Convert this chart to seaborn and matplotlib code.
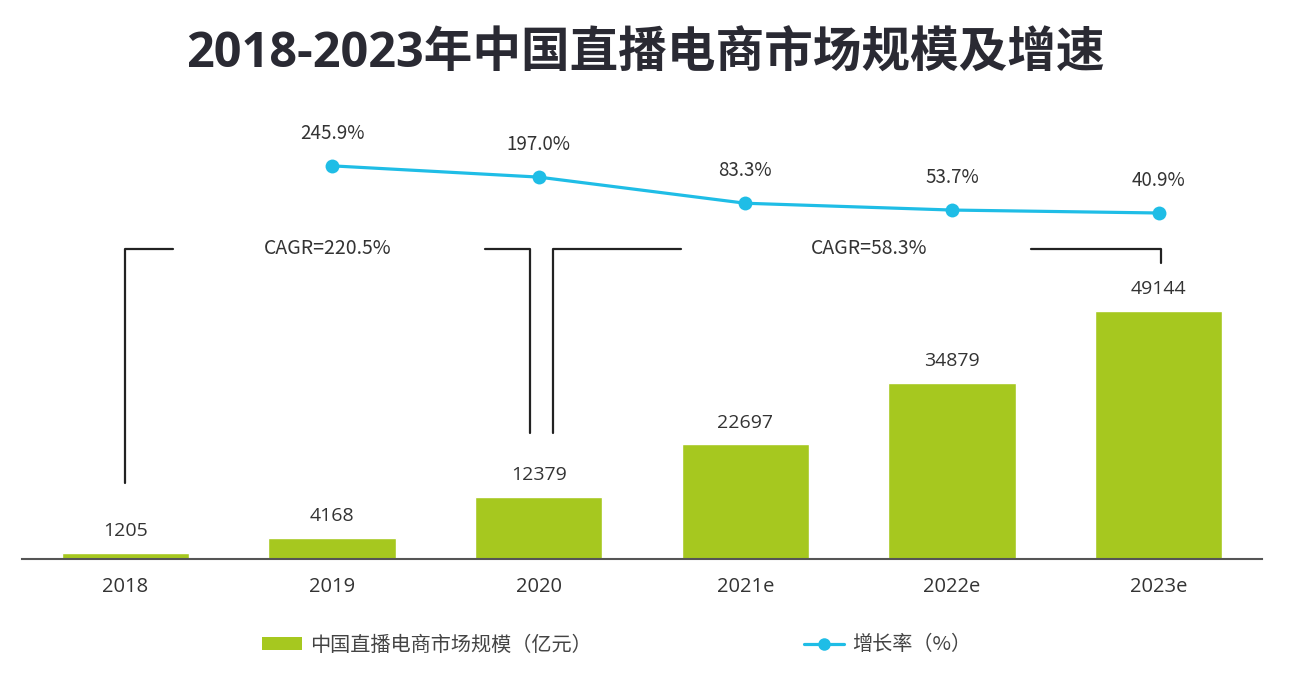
import numpy as np
import pandas as pd
import matplotlib
matplotlib.use("Agg")
import matplotlib.pyplot as plt
import seaborn as sns
from matplotlib.patches import Patch
from matplotlib.lines import Line2D

# data
years = ["2018", "2019", "2020", "2021e", "2022e", "2023e"]
market_size = [1205, 4168, 12379, 22697, 34879, 49144]      # 亿元
growth_years = ["2019", "2020", "2021e", "2022e", "2023e"]
growth_rate = [245.9, 197.0, 83.3, 53.7, 40.9]               # %
cagr_labels = ["CAGR=220.5%", "CAGR=58.3%"]

BAR_COLOR = "#a6c81f"
LINE_COLOR = "#1fbde6"
TEXT_COLOR = "#333333"
NUM_FONT = ["Open Sans", "DejaVu Sans"]

sns.set_theme(style="white")
plt.rcParams["font.family"] = ["Noto Sans CJK SC", "DejaVu Sans"]

fig = plt.figure(figsize=(12.9, 6.8), dpi=100)
W, H = 1290, 680
# main axes: baseline at y=559px, x spans 22..1262px
ax = fig.add_axes([22 / W, (H - 559) / H, 1240 / W, (559 - 100) / H])

df = pd.DataFrame({"year": years, "size": market_size})
sns.barplot(data=df, x="year", y="size", color=BAR_COLOR, width=0.615,
            saturation=1, ax=ax, zorder=2)

px_per_unit = 248 / 49144
ax.set_ylim(0, (559 - 100) / px_per_unit)
ax.set_xlim(-0.5, len(years) - 0.5)

for i, v in enumerate(market_size):
    ax.annotate(f"{v}", (i, v), xytext=(0, 9), textcoords="offset points",
                ha="center", va="bottom", fontsize=14, color=TEXT_COLOR,
                family=NUM_FONT)

for s in ["top", "right", "left"]:
    ax.spines[s].set_visible(False)
ax.spines["bottom"].set_color("#555555")
ax.spines["bottom"].set_linewidth(1.5)
ax.set_yticks([])
ax.set_xlabel("")
ax.set_ylabel("")
ax.tick_params(axis="x", length=0, pad=13, labelcolor=TEXT_COLOR)
for lab in ax.get_xticklabels():
    lab.set_family(NUM_FONT)
    lab.set_fontsize(14.5)

# growth line on twin axis
ax2 = ax.twinx()
px_per_pct = 0.23
zero_px = 222.4
ax2.set_ylim(-(559 - zero_px) / px_per_pct, (zero_px - 100) / px_per_pct)
gx = [years.index(y) for y in growth_years]
sns.lineplot(x=gx, y=growth_rate, ax=ax2, color=LINE_COLOR, linewidth=2.3,
             marker="o", markersize=10, markeredgewidth=0)
for x, v in zip(gx, growth_rate):
    ax2.annotate(f"{v:.1f}%", (x, v), xytext=(0, 16), textcoords="offset points",
                 ha="center", va="bottom", fontsize=13.5, color=TEXT_COLOR)
ax2.axis("off")
ax2.set_xlim(-0.5, len(years) - 0.5)

# CAGR brackets
bracket_y = (559 - 249) / px_per_unit
lk = dict(color="#222222", linewidth=1.6, zorder=3)
# 2018-2020
ax.plot([0, 0, 0.23], [market_size[0] + 13800, bracket_y, bracket_y], **lk)
ax.plot([1.74, 1.96, 1.96], [bracket_y, bracket_y, market_size[2] + 12600], **lk)
ax.text(0.98, bracket_y, cagr_labels[0], ha="center", va="center",
        fontsize=14, color=TEXT_COLOR)
# 2020-2023
ax.plot([2.07, 2.07, 2.69], [market_size[2] + 12600, bracket_y, bracket_y], **lk)
ax.plot([4.38, 5.01, 5.01], [bracket_y, bracket_y, market_size[5] + 9500], **lk)
ax.text(3.6, bracket_y, cagr_labels[1], ha="center", va="center",
        fontsize=14, color=TEXT_COLOR)

fig.text(0.5, (H - 55) / H, "2018-2023年中国直播电商市场规模及增速",
         ha="center", va="center", fontsize=35, fontweight="bold",
         color="#2a2a33", family=["Open Sans", "Noto Sans CJK SC"])

handles = [Patch(facecolor=BAR_COLOR, edgecolor="none"),
           Line2D([], [], color=LINE_COLOR, linewidth=2.3, marker="o",
                  markersize=9, markeredgewidth=0)]
fig.legend(handles, ["中国直播电商市场规模（亿元）", "增长率（%）"],
           loc="center", bbox_to_anchor=(0.478, (H - 645) / H), ncol=2,
           frameon=False, fontsize=14.5, columnspacing=10.5, handlelength=2.0,
           handleheight=0.65, handletextpad=0.4, labelcolor="#444444")

fig.savefig("out.png", dpi=100, facecolor="white")
